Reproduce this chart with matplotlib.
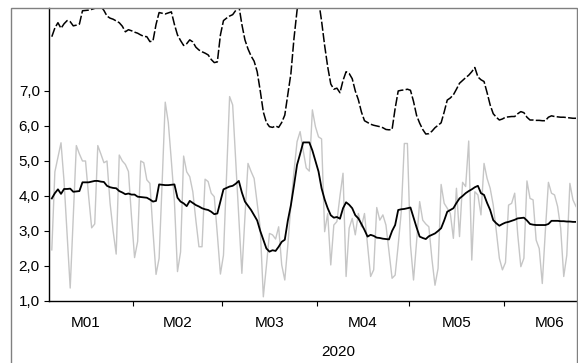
import pandas as pd
import matplotlib
matplotlib.use("Agg")
import matplotlib.pyplot as plt
import matplotlib.dates as mdates
from matplotlib.patches import Rectangle
from matplotlib.ticker import FuncFormatter, FixedLocator

plt.rcParams['font.family'] = ['Liberation Sans', 'DejaVu Sans']

# daily series, starting 2020-01-05
start_date = "2020-01-05"

daily = [
    2.46, 4.69, 5.10, 5.52, 4.41, 2.90, 1.37, 3.40, 5.44, 5.20,
    5.00, 5.00, 4.00, 3.09, 3.20, 5.44, 5.20, 4.95, 5.00, 3.80,
    3.00, 2.34, 5.17, 5.00, 4.90, 4.70, 3.40, 2.24, 2.70, 5.00,
    4.95, 4.46, 4.36, 3.00, 1.76, 2.22, 4.40, 6.68, 6.10, 5.00,
    3.84, 1.84, 2.40, 5.14, 4.69, 4.55, 4.12, 3.30, 2.55, 2.55,
    4.48, 4.41, 4.08, 3.98, 2.90, 1.77, 2.31, 4.60, 6.84, 6.60,
    5.00, 3.36, 1.79, 3.40, 4.93, 4.70, 4.50, 3.80, 3.08, 1.12,
    2.00, 2.93, 2.89, 2.77, 3.12, 2.03, 1.60, 2.60, 3.74, 4.70,
    5.55, 5.84, 5.30, 4.80, 4.71, 6.46, 5.98, 5.69, 5.63, 2.98,
    3.50, 2.03, 3.17, 3.27, 4.00, 4.65, 1.70, 3.08, 3.36, 2.89,
    3.50, 3.12, 3.50, 2.60, 1.70, 1.89, 3.67, 3.31, 3.46, 3.17,
    2.40, 1.65, 1.74, 2.60, 3.55, 5.50, 5.50, 2.60, 1.60, 2.70,
    3.84, 3.31, 3.20, 3.12, 2.20, 1.45, 1.93, 4.33, 3.79, 3.65,
    3.50, 2.79, 4.22, 2.84, 4.39, 4.27, 5.57, 2.17, 4.12, 4.03,
    3.46, 4.93, 4.50, 4.22, 3.74, 3.00, 2.22, 1.89, 2.10, 3.74,
    3.79, 4.08, 2.89, 1.98, 2.22, 4.43, 3.93, 3.89, 2.74, 2.50,
    1.50, 3.00, 4.39, 4.08, 4.03, 3.70, 3.08, 1.70, 2.31, 4.36,
    3.89, 3.70,
]

smooth = [
    3.93, 4.08, 4.19, 4.06, 4.20, 4.20, 4.21, 4.12, 4.13, 4.14,
    4.39, 4.39, 4.39, 4.41, 4.43, 4.43, 4.41, 4.40, 4.29, 4.25,
    4.23, 4.22, 4.14, 4.10, 4.05, 4.07, 4.04, 4.04, 3.98, 3.97,
    3.96, 3.95, 3.90, 3.84, 3.86, 4.33, 4.32, 4.31, 4.31, 4.32,
    4.33, 3.95, 3.84, 3.79, 3.71, 3.86, 3.80, 3.74, 3.70, 3.65,
    3.62, 3.60, 3.55, 3.48, 3.50, 3.85, 4.19, 4.23, 4.27, 4.29,
    4.35, 4.43, 4.10, 3.84, 3.72, 3.60, 3.45, 3.30, 3.00, 2.75,
    2.50, 2.41, 2.45, 2.43, 2.55, 2.69, 2.75, 3.30, 3.74, 4.30,
    4.89, 5.20, 5.53, 5.53, 5.53, 5.30, 5.00, 4.70, 4.22, 3.90,
    3.65, 3.45, 3.38, 3.40, 3.35, 3.65, 3.82, 3.75, 3.65, 3.45,
    3.36, 3.20, 3.03, 2.84, 2.89, 2.86, 2.81, 2.80, 2.78, 2.77,
    2.76, 3.00, 3.17, 3.60, 3.62, 3.63, 3.65, 3.67, 3.38, 3.10,
    2.84, 2.80, 2.77, 2.85, 2.89, 2.93, 3.00, 3.08, 3.30, 3.55,
    3.60, 3.65, 3.80, 3.93, 4.00, 4.08, 4.14, 4.19, 4.25, 4.29,
    4.08, 4.03, 3.80, 3.60, 3.31, 3.22, 3.15, 3.20, 3.24, 3.26,
    3.29, 3.32, 3.36, 3.37, 3.38, 3.30, 3.20, 3.18, 3.17, 3.17,
    3.17, 3.17, 3.20, 3.29, 3.29, 3.29, 3.28, 3.28, 3.27, 3.27,
    3.26, 3.26,
]

upper = [
    8.55, 8.80, 8.95, 8.79, 8.92, 9.01, 8.98, 8.86, 8.88, 8.91,
    9.29, 9.30, 9.31, 9.33, 9.36, 9.40, 9.42, 9.30, 9.14, 9.08,
    9.05, 9.00, 8.95, 8.85, 8.69, 8.75, 8.72, 8.68, 8.65, 8.60,
    8.56, 8.55, 8.41, 8.43, 8.90, 9.24, 9.22, 9.20, 9.23, 9.26,
    8.90, 8.60, 8.44, 8.30, 8.35, 8.46, 8.40, 8.25, 8.17, 8.12,
    8.08, 8.03, 7.90, 7.81, 7.83, 8.60, 9.01, 9.08, 9.14, 9.18,
    9.30, 9.45, 8.90, 8.46, 8.20, 8.00, 7.85, 7.55, 7.00, 6.40,
    6.10, 5.98, 5.96, 6.00, 5.96, 6.10, 6.31, 6.90, 7.50, 8.50,
    9.30, 9.90, 10.60, 11.00, 11.10, 10.90, 10.30, 9.60, 9.00, 8.30,
    7.69, 7.20, 7.05, 7.08, 6.95, 7.30, 7.55, 7.50, 7.35, 7.00,
    6.75, 6.40, 6.15, 6.10, 6.05, 6.02, 6.00, 5.98, 5.95, 5.90,
    5.89, 5.90, 6.50, 7.00, 7.02, 7.03, 7.05, 7.02, 6.70, 6.30,
    6.08, 5.90, 5.77, 5.78, 5.85, 5.95, 6.02, 6.09, 6.40, 6.74,
    6.80, 6.89, 7.05, 7.22, 7.30, 7.38, 7.45, 7.55, 7.67, 7.40,
    7.32, 7.27, 6.95, 6.60, 6.35, 6.25, 6.17, 6.20, 6.25, 6.26,
    6.27, 6.27, 6.35, 6.41, 6.38, 6.25, 6.17, 6.17, 6.16, 6.16,
    6.15, 6.15, 6.25, 6.29, 6.27, 6.26, 6.25, 6.25, 6.24, 6.23,
    6.22, 6.22,
]

month_labels = ["M01", "M02", "M03", "M04", "M05", "M06"]
y_ticks = [1.0, 2.0, 3.0, 4.0, 5.0, 6.0, 7.0]
year_label = "2020"

dates = pd.date_range(start_date, periods=len(daily), freq="D") + pd.Timedelta(hours=12)

W, H = 578, 363
fig = plt.figure(figsize=(W / 100, H / 100), dpi=100)
ax = fig.add_axes([49 / W, 1 - 301 / H, (576 - 49) / W, (301 - 8) / H])

ax.plot(dates, daily, color="#c6c6c6", lw=1.0)
ax.plot(dates, smooth, color="black", lw=1.3)
ax.plot(dates, upper, color="black", lw=1.1, dashes=(6, 1.5))

ax.set_ylim(1.0, 9.37)
ax.set_xlim(pd.Timestamp("2020-01-04 14:00"), pd.Timestamp("2020-06-24 12:00"))

# y axis
ax.yaxis.set_major_locator(FixedLocator(y_ticks))
ax.yaxis.set_major_formatter(FuncFormatter(lambda v, p: f"{v:.1f}".replace(".", ",")))
ax.tick_params(axis="y", direction="out", length=3.6, width=0.8, pad=3, labelsize=11)

# x axis: ticks at month starts, labels centred on months
starts = pd.date_range("2020-01-01", "2020-07-01", freq="MS")
centers = [starts[k] + (starts[k + 1] - starts[k]) / 2 for k in range(len(starts) - 1)]
ax.xaxis.set_major_locator(FixedLocator(mdates.date2num(list(starts[1:6]))))
ax.xaxis.set_major_formatter(FuncFormatter(lambda v, p: ""))
ax.set_xticks(mdates.date2num(centers), minor=True)
ax.set_xticklabels(month_labels, minor=True)
ax.tick_params(axis="x", which="major", direction="out", length=3.6, width=0.8)
ax.tick_params(axis="x", which="minor", length=0, pad=11, labelsize=11)

for side in ["top", "right"]:
    ax.spines[side].set_visible(False)
for side in ["left", "bottom"]:
    ax.spines[side].set_linewidth(1.0)

fig.text(338 / W, 1 - 352 / H, year_label, ha="center", va="center", fontsize=11)

# outer frame
fig.add_artist(Rectangle((11 / W, -0.05), (576.5 - 11) / W, 1 - 8.5 / H + 0.05,
                         transform=fig.transFigure, fill=False, edgecolor="#808080",
                         lw=1.0, zorder=5))

fig.savefig("out.png", dpi=100)
